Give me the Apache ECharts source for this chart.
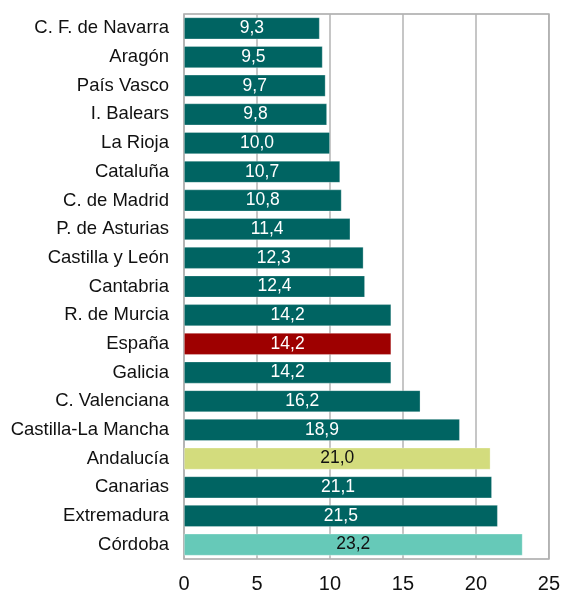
<!DOCTYPE html>
<html><head><meta charset="utf-8">
<script src="https://cdn.jsdelivr.net/npm/echarts@6/dist/echarts.min.js"></script>
<style>html,body{margin:0;padding:0;background:#fff}#c{width:563px;height:594px}</style>
</head><body><div id="c"></div>
<script>
var categories = ["C. F. de Navarra","Aragón","País Vasco","I. Balears","La Rioja","Cataluña","C. de Madrid","P. de Asturias","Castilla y León","Cantabria","R. de Murcia","España","Galicia","C. Valenciana","Castilla-La Mancha","Andalucía","Canarias","Extremadura","Córdoba"];
var values = [9.3,9.5,9.7,9.8,10.0,10.7,10.8,11.4,12.3,12.4,14.2,14.2,14.2,16.2,18.9,21.0,21.1,21.5,23.2];
var xTicks = [0,5,10,15,20,25];
var specialColors = {"España":"#9e0000","Andalucía":"#d3dc7d","Córdoba":"#66c9b8"};
var darkLabel = {"Andalucía":true,"Córdoba":true};

var data = categories.map(function(c,i){
  return {value: values[i],
    itemStyle:{color: specialColors[c] || "#006462"},
    label:{color: darkLabel[c] ? "#111" : "#fff"}};
});
var chart = echarts.init(document.getElementById('c'));
chart.setOption({
  animation:false,
  grid:{left:184,right:14,top:14,bottom:33,show:true,borderColor:"#a6a6a6",borderWidth:1.5},
  xAxis:{type:'value',min:0,max:25,interval:5,
    axisLine:{show:false},axisTick:{show:false},
    splitLine:{lineStyle:{color:"#b3b3b3",width:1.5}},
    axisLabel:{fontFamily:"Liberation Sans, Arial",fontSize:20,color:"#111",margin:15,
      formatter:function(v){return xTicks.indexOf(v)>=0?String(v):'';}}},
  yAxis:{type:'category',data:categories,inverse:true,
    axisLine:{show:false},axisTick:{show:false},
    axisLabel:{fontFamily:"Liberation Sans, Arial",fontSize:18.5,color:"#111",margin:15,padding:[3,0,0,0]}},
  series:[{type:'bar',data:data,barWidth:22,
    itemStyle:{borderColor:"rgba(255,255,255,0.35)",borderWidth:0.8},
    label:{show:true,position:'inside',fontFamily:"Liberation Sans, Arial",fontSize:17.5,padding:[2,0,0,0],
      formatter:function(p){return p.value.toFixed(1).replace('.',',');}}}]
});
</script></body></html>
